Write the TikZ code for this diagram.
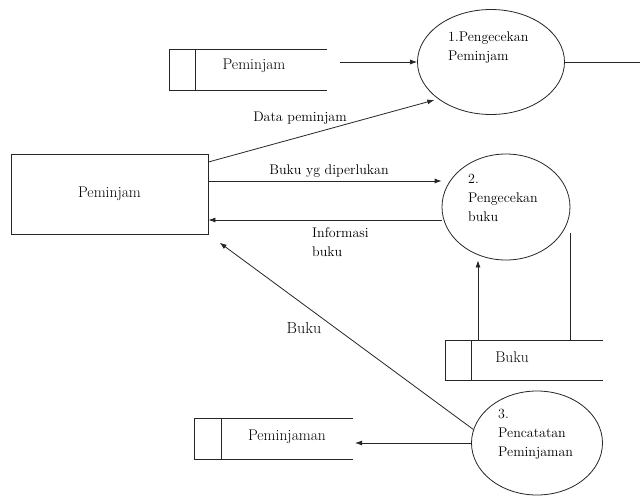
\documentclass[tikz,border=0pt]{standalone}
\usetikzlibrary{shapes.geometric,arrows.meta}
\begin{document}
\begin{tikzpicture}[x=1pt,y=-1pt,
  ln/.style={line width=0.8pt, draw=black!85},
  arr/.style={ln, -{Latex[length=7pt,width=5pt]}},
  proc/.style={ellipse, draw=black!85, line width=0.8pt, inner sep=0pt},
  txt/.style={font=\fontsize{15.5}{19}\selectfont, inner sep=0pt},
  lbl/.style={font=\fontsize{14}{19}\selectfont, inner sep=0pt},
  ptxt/.style={font=\fontsize{14}{19}\selectfont, inner sep=0pt, anchor=north west, align=left}
]
\fill[white] (0,0) rectangle (640,496);
\useasboundingbox (0,0) rectangle (640,496);

% external entity
\node[draw=black!85, line width=0.8pt, minimum width=197pt, minimum height=80pt, inner sep=0pt, font=\fontsize{15.5}{19}\selectfont] (P) at (109.5,194) {Peminjam};

% data store Peminjam
\draw[ln] (327,49) -- (169,49) -- (169,90) -- (327,90);
\draw[ln] (195,49) -- (195,90);
\node[txt] (s1) at (254,66) {Peminjam};
\coordinate (s1out) at (340,62);

% process 1
\node[proc, minimum width=147pt, minimum height=105pt] (p1) at (491,62) {};
\node[ptxt] (p1t) at (448,32) {1.Pengecekan\\Peminjam};
\coordinate (edge) at (640,62);
\draw[arr] (s1out) -- (p1.west);
\draw[ln] (p1.east) -- (edge);
\draw[arr, shorten >=4pt] ([yshift=32pt]P.east) -- (p1.215);
\node[lbl] (l1) at (300,118) {Data peminjam};

% process 2
\node[proc, minimum width=128pt, minimum height=106pt] (p2) at (506,207) {};
\node[ptxt] (p2t) at (468,174) {2.\\Pengecekan\\buku};
\draw[arr] ([yshift=13pt]P.east) -- ([yshift=26pt]p2.west);
\draw[arr] ([yshift=-13pt]p2.west) -- ([yshift=-26pt]P.east);
\node[lbl] (l2) at (329,171) {Buku yg diperlukan};
\node[ptxt] (l3) at (312,227) {Informasi\\buku};

% data store Buku
\draw[ln] (603,340) -- (445,340) -- (445,380) -- (603,380);
\draw[ln] (471,340) -- (471,380);
\node[txt] (s2) at (512,357) {Buku};
\coordinate (s2a) at (478,340);
\coordinate (s2b) at (570,340);
\coordinate (s2c) at (570,233);
\draw[arr] (s2a) -- (p2.south -| s2a);
\draw[ln] (s2b) -- (s2c);

% process 3
\node[proc, minimum width=131pt, minimum height=104pt] (p3) at (537,443) {};
\node[ptxt] (p3t) at (498,409) {3.\\Pencatatan\\Peminjaman};

% data store Peminjaman
\draw[ln] (353,418) -- (194,418) -- (194,459) -- (353,459);
\draw[ln] (221,418) -- (221,459);
\node[txt] (s3) at (287,437) {Peminjaman};
\coordinate (s3in) at (355,443);
\draw[arr] (p3.west) -- (s3in);

% Buku flow back to entity
\draw[arr, shorten >=14pt] (p3.168) -- (P.south east);
\node[txt, font=\fontsize{16}{19}\selectfont] (l4) at (304,328) {Buku};
\end{tikzpicture}
\end{document}
